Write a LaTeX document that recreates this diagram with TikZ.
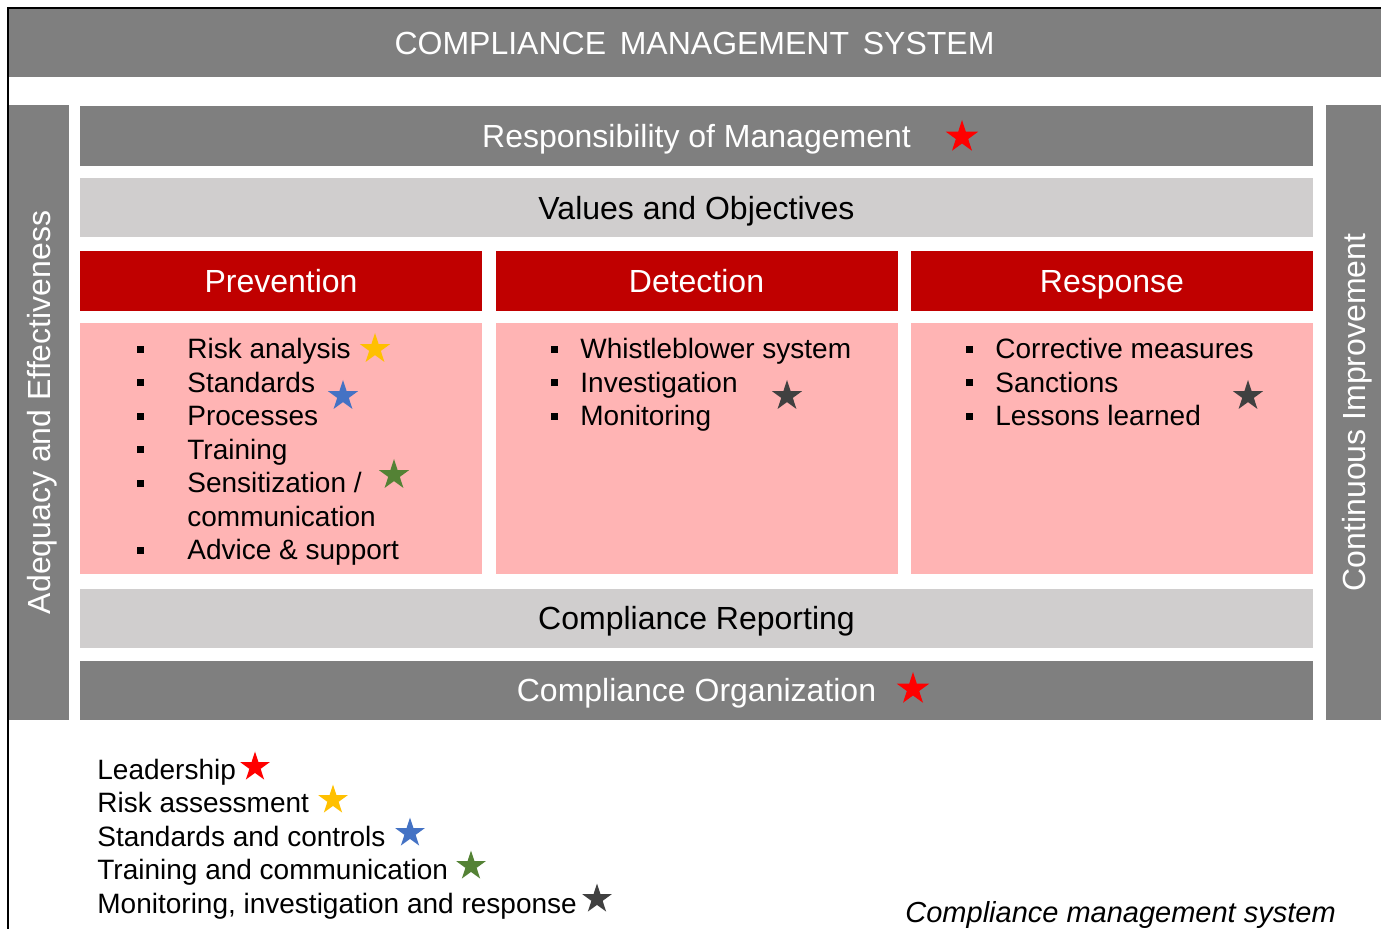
\documentclass[tikz,border=0pt]{standalone}
\usepackage{fontspec}
\setmainfont{Liberation Sans}
\usetikzlibrary{shapes.geometric}

\definecolor{bargray}{HTML}{7F7F7F}
\definecolor{lightgray}{HTML}{D0CECE}
\definecolor{headred}{HTML}{C00000}
\definecolor{boxpink}{HTML}{FFB4B4}
\definecolor{stred}{HTML}{FF0000}
\definecolor{styellow}{HTML}{FFC000}
\definecolor{stblue}{HTML}{4472C4}
\definecolor{stgreen}{HTML}{548235}
\definecolor{stdark}{HTML}{404040}

% square bullet, #1 = distance to the text
\newcommand{\bul}[1]{\makebox[#1][l]{\rule[3.2pt]{3.5pt}{3.5pt}}}

\begin{document}
\begin{tikzpicture}[
			x = 0.5pt, y = -0.5pt, % one unit = one pixel of the sketch
			font=\fontsize{14}{16}\selectfont,
			bar/.style = {inner sep=0pt, minimum width=616.5pt, minimum height=29.5pt, text height=13pt, text depth=1.5pt, font=\fontsize{16}{18}\selectfont},
			darkbar/.style = {bar, fill=bargray, text=white},
			lightbar/.style = {bar, fill=lightgray, text=black},
			redbar/.style = {bar, fill=headred, text=white, minimum width=201pt, minimum height=30pt},
			pinkbox/.style = {inner sep=0pt, fill=boxpink, minimum width=201pt, minimum height=125.5pt},
			item/.style = {anchor=base west, inner sep=0pt},
			cstar/.style = {star, star points=5, star point ratio=2.618, inner sep=0pt, minimum size=16pt, fill=#1, draw=none}
			]
			
			\useasboundingbox (0,0) rectangle (1381,929);
			
			% frame
			\node[darkbar, minimum width=686.5pt, minimum height=34pt] (sys) at (694.5,43) {COMPLIANCE\hspace{0.15em} MANAGEMENT\hspace{0.15em} SYSTEM};
			\draw[line width=0.6pt] (8,929) -- (8,8) -- (1381,8);
			\node[darkbar, rotate=90, minimum width=307.5pt, minimum height=30pt] (adeq) at (39,412.5) {Adequacy and Effectiveness};
			\node[darkbar, rotate=90, minimum width=307.5pt, minimum height=28pt] (impr) at (1354,412.5) {Continuous Improvement};
			
			% layers
			\node[darkbar, minimum height=30pt] (mgmt) at (696.5,136) {Responsibility of Management};
			\node[lightbar] (vals) at (696.5,208) {Values and Objectives};
			\node[redbar] (prev) at (281,281) {Prevention};
			\node[redbar] (det) at (696.5,281) {Detection};
			\node[redbar] (resp) at (1112,281) {Response};
			\node[pinkbox] (prevbox) at (281,448.5) {};
			\node[pinkbox] (detbox) at (696.5,448.5) {};
			\node[pinkbox] (respbox) at (1112,448.5) {};
			\node[lightbar] (rep) at (696.5,618.5) {Compliance Reporting};
			\node[darkbar] (org) at (696.5,690.5) {Compliance Organization};
			
			% prevention items
			\node[item] (p1) at (137,359) {\bul{25pt}Risk analysis};
			\node[item] (p2) at (137,392.5) {\bul{25pt}Standards};
			\node[item] (p3) at (137,426) {\bul{25pt}Processes};
			\node[item] (p4) at (137,459.5) {\bul{25pt}Training};
			\node[item] (p5) at (137,493) {\bul{25pt}Sensitization /};
			\node[item] (p6) at (187,526.5) {communication};
			\node[item] (p7) at (137,560) {\bul{25pt}Advice \& support};
			
			% detection items
			\node[item] (d1) at (551,359) {\bul{14.5pt}Whistleblower system};
			\node[item] (d2) at (551,392.5) {\bul{14.5pt}Investigation};
			\node[item] (d3) at (551,426) {\bul{14.5pt}Monitoring};
			
			% response items
			\node[item] (r1) at (966,359) {\bul{14.5pt}Corrective measures};
			\node[item] (r2) at (966,392.5) {\bul{14.5pt}Sanctions};
			\node[item] (r3) at (966,426) {\bul{14.5pt}Lessons learned};
			
			% stars
			\node[cstar=stred, minimum size=17pt] (s1) at (962,137) {};
			\node[cstar=stred, minimum size=17pt] (s2) at (913,689) {};
			\node[cstar=styellow] (s3) at (375,349) {};
			\node[cstar=stblue] (s4) at (343,396) {};
			\node[cstar=stgreen] (s5) at (394,475) {};
			\node[cstar=stdark] (s6) at (787,396) {};
			\node[cstar=stdark] (s7) at (1248,396) {};
			
			% legend
			\node[item] (l1) at (97,779) {Leadership};
			\node[item] (l2) at (97,812.5) {Risk assessment};
			\node[item] (l3) at (97,846) {Standards and controls};
			\node[item] (l4) at (97,879.5) {Training and communication};
			\node[item] (l5) at (97,913) {Monitoring, investigation and response};
			\node[cstar=stred, minimum size=15.5pt] (ls1) at (255,767) {};
			\node[cstar=styellow, minimum size=15.5pt] (ls2) at (333,800) {};
			\node[cstar=stblue, minimum size=15.5pt] (ls3) at (410,833) {};
			\node[cstar=stgreen, minimum size=15.5pt] (ls4) at (471,866) {};
			\node[cstar=stdark, minimum size=15.5pt] (ls5) at (597,899) {};
			
			\node[item, font=\itshape\fontsize{14.5}{16}\selectfont] (cap) at (905,922.5) {Compliance management system};
			
		\end{tikzpicture}
\end{document}
